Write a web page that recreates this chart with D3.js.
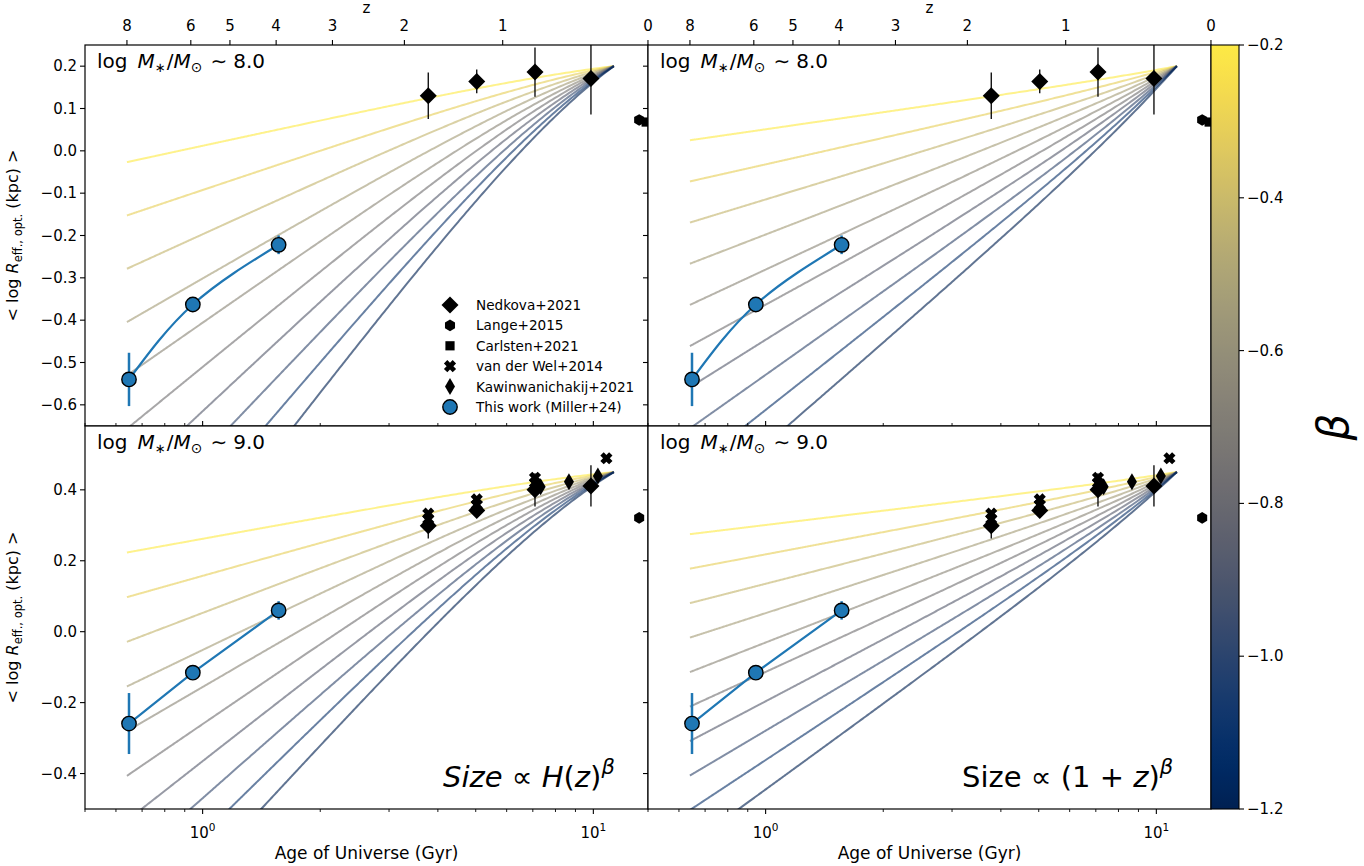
<!DOCTYPE html>
<html><head><meta charset="utf-8">
<script src="https://cdn.jsdelivr.net/npm/d3@7"></script>
<style>body{margin:0;background:#fff} text{font-family:"DejaVu Sans",sans-serif;fill:#000}</style>
</head><body><svg id="chart" width="1364" height="866"></svg>
<script>
// ---------------- data ----------------
const betaValues = [-0.2, -0.3111, -0.4222, -0.5333, -0.6444, -0.7556, -0.8667, -0.9778, -1.0889, -1.2];
const modelZStart = 8;
const modelZNorm = 0.2;
const modelNorm = [0.2, 0.45];          // log R at z_norm, mass bins 8.0 / 9.0
const massLabels = ["8.0", "9.0"];
const modelTypes = ["H", "1+z"];
const zTicks = [8, 6, 5, 4, 3, 2, 1, 0];
const yTicksTop = [-0.6, -0.5, -0.4, -0.3, -0.2, -0.1, 0.0, 0.1, 0.2];
const yTicksBottom = [-0.4, -0.2, 0.0, 0.2, 0.4];
const cbTicks = [-1.2, -1.0, -0.8, -0.6, -0.4, -0.2];
const xMajor = [1, 10];
const xMinor = [0.5, 0.6, 0.7, 0.8, 0.9, 2, 3, 4, 5, 6, 7, 8, 9];

// Nedkova+2021 (diamonds)
const nedkovaAge = [3.78, 5.03, 7.09, 9.86];
const nedkovaR8 = [0.130, 0.164, 0.186, 0.171];
const nedkovaErr8 = [0.055, 0.028, 0.058, 0.085];
const nedkovaR9 = [0.299, 0.342, 0.400, 0.411];
const nedkovaErr9 = [0.036, 0.015, 0.047, 0.058];
// Lange+2015 (hexagons)
const langeAge = [13.1, 13.1];
const langeR = [0.073, 0.321];
// Carlsten+2021 (square), only 8.0 bin
const carlstenAge = [13.65];
const carlstenR8 = [0.068];
// van der Wel+2014 (X), only 9.0 bin
const vdwAge = [3.78, 3.78, 5.03, 5.03, 7.09, 7.09, 10.8];
const vdwR9 = [0.333, 0.317, 0.373, 0.358, 0.434, 0.420, 0.489];
// Kawinwanichakij+2021 (thin diamonds), only 9.0 bin
const kawinAge = [7.33, 8.66, 10.27];
const kawinR9 = [0.409, 0.423, 0.439];
// This work (Miller+24)
const thisAge = [0.648, 0.944, 1.565];
const thisR8 = [-0.540, -0.363, -0.222];
const thisErr8 = [0.063, 0.012, 0.022];
const thisR9 = [-0.259, -0.1155, 0.060];
const thisErr9 = [0.086, 0.012, 0.026];

const legendNames = ["Nedkova+2021", "Lange+2015", "Carlsten+2021", "van der Wel+2014", "Kawinwanichakij+2021", "This work (Miller+24)"];

// ---------------- cosmology ----------------
const H0 = 67.7, Om = 0.31, OL = 0.69;
function ageGyr(z) {
  return (977.8 / H0) * 2 / (3 * Math.sqrt(OL)) * Math.asinh(Math.sqrt(OL / Om) * Math.pow(1 + z, -1.5));
}
function Hz(z) { return Math.sqrt(Om * Math.pow(1 + z, 3) + OL); }
function model(type, beta, R0, z) {
  if (type === "H") return R0 + beta * Math.log10(Hz(z) / Hz(modelZNorm));
  return R0 + beta * Math.log10((1 + z) / (1 + modelZNorm));
}

// ---------------- layout ----------------
const svg = d3.select("#chart");
const colX = [[85, 648], [648, 1211]];
const rowY = [[45, 426], [426, 809]];
const xDomain = [0.5, 13.8];
const yDomains = [[-0.65, 0.25], [-0.5, 0.58]];
const blue = "#1f77b4";
const fmt = d3.format(".1f");
const defs = svg.append("defs");
const cmap = b => d3.interpolateCividis((b + 1.2) / 1.0);

// marker paths
const diamondPath = (w, h) => `M0,${-h}L${w},0L0,${h}L${-w},0Z`;
const hexPath = r => d3.range(6).map(k => { const a = (-90 + 60 * k) * Math.PI / 180; return (k ? "L" : "M") + (r * Math.cos(a)).toFixed(2) + "," + (r * Math.sin(a)).toFixed(2); }).join("") + "Z";
const squarePath = s => `M${-s},${-s}L${s},${-s}L${s},${s}L${-s},${s}Z`;
const xPath = (L, a) => {
  const pts = [[a, L], [a, a], [L, a], [L, -a], [a, -a], [a, -L], [-a, -L], [-a, -a], [-L, -a], [-L, a], [-a, a], [-a, L]];
  const c = Math.SQRT1_2;
  return pts.map((p, i) => (i ? "L" : "M") + ((p[0] - p[1]) * c).toFixed(2) + "," + ((p[0] + p[1]) * c).toFixed(2)).join("") + "Z";
};
const markers = {
  D: diamondPath(8.5, 8.5),
  d: diamondPath(5, 8.5),
  h: hexPath(5.8),
  s: squarePath(4.6),
  X: xPath(6.2, 2.4)
};

const zGrid = d3.range(0, 401).map(i => modelZStart - (modelZStart - modelZNorm) * i / 400);

const panels = [];
for (let row = 0; row < 2; row++) for (let col = 0; col < 2; col++) panels.push({ row, col });

panels.forEach(({ row, col }) => {
  const [L, R] = colX[col];
  const [T, B] = rowY[row];
  const x = d3.scaleLog().domain(xDomain).range([L, R]);
  const y = d3.scaleLinear().domain(yDomains[row]).range([B, T]);
  const id = `clip${row}${col}`;
  defs.append("clipPath").attr("id", id).append("rect").attr("x", L).attr("y", T).attr("width", R - L).attr("height", B - T);
  const g = svg.append("g");
  g.append("rect").attr("x", L).attr("y", T).attr("width", R - L).attr("height", B - T).attr("fill", "#fff");
  const c = g.append("g").attr("clip-path", `url(#${id})`);

  // model lines
  const line = d3.line().x(d => x(ageGyr(d.z))).y(d => y(d.v));
  betaValues.forEach(b => {
    const pts = zGrid.map(z => ({ z, v: model(modelTypes[col], b, modelNorm[row], z) }));
    c.append("path").attr("d", line(pts)).attr("fill", "none")
      .attr("stroke", cmap(b)).attr("stroke-opacity", 0.62).attr("stroke-width", 2);
  });

  const errBar = (ax, ay, e, color, w) => c.append("line").attr("x1", x(ax)).attr("x2", x(ax))
    .attr("y1", y(ay - e)).attr("y2", y(ay + e)).attr("stroke", color).attr("stroke-width", w);
  const mark = (m, ax, ay) => c.append("path").attr("d", markers[m])
    .attr("transform", `translate(${x(ax)},${y(ay)})`).attr("fill", "#000");

  if (row === 0) {
    nedkovaAge.forEach((a, i) => errBar(a, nedkovaR8[i], nedkovaErr8[i], "#000", 1.3));
    nedkovaAge.forEach((a, i) => mark("D", a, nedkovaR8[i]));
    mark("h", langeAge[0], langeR[0]);
    carlstenAge.forEach((a, i) => mark("s", a, carlstenR8[i]));
  } else {
    nedkovaAge.forEach((a, i) => errBar(a, nedkovaR9[i], nedkovaErr9[i], "#000", 1.3));
    vdwAge.forEach((a, i) => mark("X", a, vdwR9[i]));
    nedkovaAge.forEach((a, i) => mark("D", a, nedkovaR9[i]));
    kawinAge.forEach((a, i) => mark("d", a, kawinR9[i]));
    mark("h", langeAge[1], langeR[1]);
  }

  // this work
  const tR = row === 0 ? thisR8 : thisR9;
  const tE = row === 0 ? thisErr8 : thisErr9;
  const tPts = thisAge.map((a, i) => [x(a), y(tR[i])]);
  c.append("path").attr("d", d3.line().curve(row === 0 ? d3.curveNatural : d3.curveLinear)(tPts))
    .attr("fill", "none").attr("stroke", blue).attr("stroke-width", 2.2);
  thisAge.forEach((a, i) => errBar(a, tR[i], tE[i], blue, 2.5));
  thisAge.forEach((a, i) => c.append("circle").attr("cx", x(a)).attr("cy", y(tR[i])).attr("r", 7.2)
    .attr("fill", blue).attr("stroke", "#000").attr("stroke-width", 1.4));

  // spines
  g.append("rect").attr("x", L).attr("y", T).attr("width", R - L).attr("height", B - T)
    .attr("fill", "none").attr("stroke", "#000").attr("stroke-width", 1.2);

  // y ticks (outward, left)
  const yt = row === 0 ? yTicksTop : yTicksBottom;
  yt.forEach(v => {
    g.append("line").attr("x1", L - 5).attr("x2", L).attr("y1", y(v)).attr("y2", y(v)).attr("stroke", "#000").attr("stroke-width", 1.1);
    if (col === 0) g.append("text").attr("x", L - 8).attr("y", y(v)).attr("text-anchor", "end")
      .attr("dominant-baseline", "central").attr("font-size", 15).text(fmt(v));
  });

  // x ticks
  if (row === 1) {
    xMajor.forEach(v => {
      g.append("line").attr("x1", x(v)).attr("x2", x(v)).attr("y1", B).attr("y2", B + 5).attr("stroke", "#000").attr("stroke-width", 1.1);
      g.append("line").attr("x1", x(v)).attr("x2", x(v)).attr("y1", T).attr("y2", T - 5).attr("stroke", "#000").attr("stroke-width", 1.1);
      const t = g.append("text").attr("x", x(v)).attr("y", B + 29).attr("text-anchor", "middle").attr("font-size", 15);
      t.append("tspan").text("10");
      t.append("tspan").attr("font-size", 10.5).attr("dy", -7).text(String(Math.round(Math.log10(v))));
    });
    xMinor.forEach(v => {
      g.append("line").attr("x1", x(v)).attr("x2", x(v)).attr("y1", B).attr("y2", B + 3).attr("stroke", "#000").attr("stroke-width", 0.9);
      g.append("line").attr("x1", x(v)).attr("x2", x(v)).attr("y1", T).attr("y2", T - 3).attr("stroke", "#000").attr("stroke-width", 0.9);
    });
    g.append("text").attr("x", (L + R) / 2).attr("y", 859).attr("text-anchor", "middle").attr("font-size", 17)
      .text("Age of Universe (Gyr)");
  } else {
    zTicks.forEach(z => {
      const px = x(ageGyr(z));
      g.append("line").attr("x1", px).attr("x2", px).attr("y1", T).attr("y2", T - 5).attr("stroke", "#000").attr("stroke-width", 1.1);
      g.append("text").attr("x", px).attr("y", T - 14).attr("text-anchor", "middle").attr("font-size", 15).text(String(z));
    });
    g.append("text").attr("x", (L + R) / 2).attr("y", 13).attr("text-anchor", "middle").attr("font-size", 15).text("z");
  }

  // mass label
  const t = g.append("text").attr("x", L + 12).attr("y", T + 23).attr("font-size", 20);
  t.append("tspan").text("log");
  t.append("tspan").attr("dx", 10).attr("font-style", "italic").text("M");
  t.append("tspan").attr("font-size", 13).attr("dy", 4).text("∗");
  t.append("tspan").attr("dy", -4).attr("dx", 1).text("/");
  t.append("tspan").attr("font-style", "italic").text("M");
  t.append("tspan").attr("font-size", 14).attr("dy", 4).text("⊙");
  t.append("tspan").attr("dy", -4).attr("dx", 8).text("∼");
  t.append("tspan").attr("dx", 6).text(massLabels[row]);

  // y label
  if (col === 0) {
    const yl = g.append("text").attr("transform", `translate(18,${(T + B) / 2}) rotate(-90)`)
      .attr("text-anchor", "middle").attr("font-size", 16);
    yl.append("tspan").text("<  log ");
    yl.append("tspan").attr("font-style", "italic").text("R");
    yl.append("tspan").attr("font-size", 11.5).attr("dy", 4).text("eff., opt.");
    yl.append("tspan").attr("dy", -4).text(" (kpc)  >");
  }

  // formula annotation
  if (row === 1) {
    const a = g.append("text").attr("x", col === 0 ? 443 : 962).attr("y", 787).attr("font-size", 29);
    if (col === 0) {
      a.append("tspan").attr("font-style", "italic").text("Size");
      a.append("tspan").text(" ∝ ");
      a.append("tspan").attr("font-style", "italic").text("H");
      a.append("tspan").text("(");
      a.append("tspan").attr("font-style", "italic").text("z");
      a.append("tspan").text(")");
    } else {
      a.append("tspan").text("Size  ∝ (1 + ");
      a.append("tspan").attr("font-style", "italic").text("z");
      a.append("tspan").text(")");
    }
    a.append("tspan").attr("font-style", "italic").attr("font-size", 21).attr("dy", -13).text("β");
  }

  // legend
  if (row === 0 && col === 0) {
    const lg = g.append("g");
    const syms = ["D", "h", "s", "X", "d", "o"];
    legendNames.forEach((n, i) => {
      const ly = 305 + 20.4 * i;
      if (syms[i] === "o") lg.append("circle").attr("cx", 450).attr("cy", ly).attr("r", 7.2).attr("fill", blue).attr("stroke", "#000").attr("stroke-width", 1.4);
      else lg.append("path").attr("d", markers[syms[i]]).attr("transform", `translate(450,${ly})`).attr("fill", "#000");
      lg.append("text").attr("x", 476).attr("y", ly).attr("dominant-baseline", "central").attr("font-size", 13.6).text(n);
    });
  }
});

// ---------------- colorbar ----------------
const cbX = 1211, cbW = 28, cbT = 45, cbB = 809;
const grad = defs.append("linearGradient").attr("id", "cbgrad").attr("x1", 0).attr("y1", 1).attr("x2", 0).attr("y2", 0);
d3.range(0, 101).forEach(i => grad.append("stop").attr("offset", (i / 100)).attr("stop-color", d3.interpolateCividis(i / 100)));
const cbScale = d3.scaleLinear().domain([-1.2, -0.2]).range([cbB, cbT]);
svg.append("rect").attr("x", cbX).attr("y", cbT).attr("width", cbW).attr("height", cbB - cbT).attr("fill", "url(#cbgrad)")
  .attr("stroke", "#000").attr("stroke-width", 1.1);
cbTicks.forEach(v => {
  svg.append("line").attr("x1", cbX + cbW).attr("x2", cbX + cbW + 5).attr("y1", cbScale(v)).attr("y2", cbScale(v)).attr("stroke", "#000").attr("stroke-width", 1.1);
  svg.append("text").attr("x", cbX + cbW + 8).attr("y", cbScale(v)).attr("dominant-baseline", "central").attr("font-size", 15).text(fmt(v));
});
svg.append("text").attr("transform", `translate(1333,${(cbT + cbB) / 2}) rotate(-90)`).attr("text-anchor", "middle")
  .attr("dominant-baseline", "central").attr("font-size", 42).attr("font-style", "italic").text("β");
</script></body></html>
